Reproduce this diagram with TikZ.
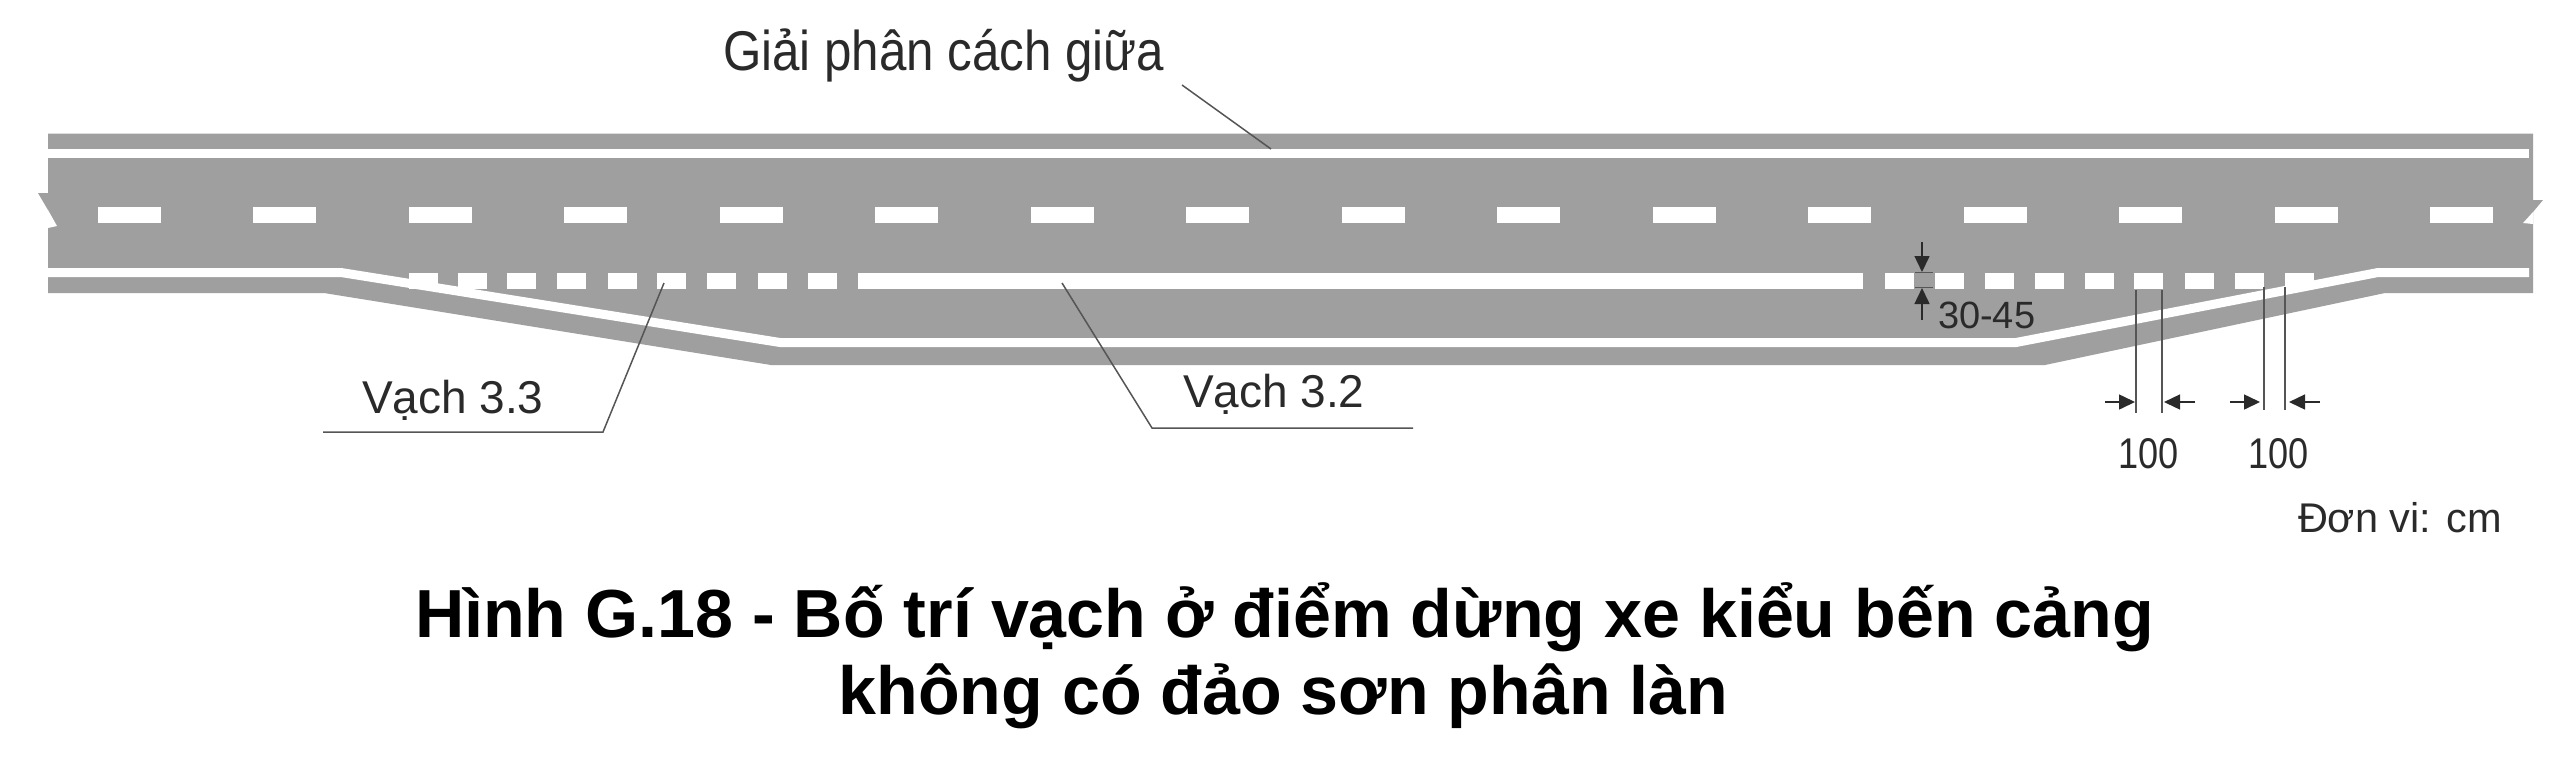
\documentclass[tikz,border=0pt]{standalone}
\usepackage{fontspec}
\usepackage{graphicx}
\setmainfont{Liberation Sans}
\usetikzlibrary{arrows.meta}
\definecolor{roadgray}{HTML}{9F9F9F}
\definecolor{inkgray}{HTML}{2A2A2A}
\definecolor{leadgray}{HTML}{555555}
\newcommand{\fs}[1]{\fontsize{#1}{#1}\selectfont}
\tikzset{
  x=1pt,y=-1pt,
  road/.style={fill=roadgray,draw=none},
  paint/.style={fill=white,draw=none},
  edgeline/.style={draw=white,line width=9pt,line join=miter},
  leader/.style={draw=leadgray,line width=1.5pt},
  dimline/.style={draw=leadgray,line width=2pt},
  dimarrow/.style={draw=inkgray,line width=1.5pt,-{Triangle[length=16pt,width=15pt]}},
  tick/.style={draw=leadgray,line width=1.5pt},
  lbl/.style={inner sep=0pt,outer sep=0pt,anchor=base west,text=inkgray},
  caption/.style={inner sep=0pt,outer sep=0pt,anchor=base,text=black,font=\bfseries},
}
\begin{document}
\begin{tikzpicture}
\useasboundingbox (0,0) rectangle (2562,780);
\fill[white] (0,0) rectangle (2562,780);
% road body
\path[road] (48,133.5) -- (2533,133.5) -- (2533,293) -- (2385,293) -- (2045,365) -- (771,365) -- (324,293) -- (48,293) -- cycle;
% break marks
\path[road] (48,193) -- (38,193) -- (48,210) -- cycle;
\path[paint] (48,210) -- (57,226) -- (48,228) -- cycle;
\path[road] (2533,200) -- (2543,200) -- (2533,212) -- cycle;
\path[paint] (2533,212) -- (2523,223) -- (2533,224) -- cycle;
% centre dashes
\foreach \i in {0,...,15}
  \path[paint] ({98+155.47*\i},207) rectangle ++(63,16);
% short dashes and solid line
\foreach \x in {409,458,507,557,608,657,707,758,808,1885,1935,1985,2035,2085,2134,2185,2235,2285}
  \path[paint] (\x,273) rectangle ++(29,16);
\path[paint] (858,273) rectangle (1863,289);
% edge lines
\draw[edgeline] (48,153.5) -- (2529,153.5);
\draw[edgeline] (48,272.5) -- (341,272.5) -- (780,342.5) -- (2016,342.5) -- (2378,272.5) -- (2529,272.5);
% leaders
\node[lbl] (giai) at (723,70) {\fs{56}\scalebox{0.88}[1]{Giải phân cách giữa}};
\coordinate (giaiA) at (1182,85);
\coordinate (giaiB) at (1271,149);
\draw[leader] (giaiA) -- (giaiB);
\node[lbl] (v33) at (362,413) {\fs{46}Vạch 3.3};
\coordinate (v33A) at (664,283);
\coordinate (v33B) at (603,432);
\coordinate (v33C) at (323,432);
\draw[leader] (v33A) -- (v33B) -- (v33C);
\node[lbl] (v32) at (1183,407) {\fs{46}Vạch 3.2};
\coordinate (v32A) at (1062,283);
\coordinate (v32B) at (1152,428);
\coordinate (v32C) at (1413,428);
\draw[leader] (v32A) -- (v32B) -- (v32C);
% width dimensions
\foreach \n/\x in {a/2136,b/2162}{\coordinate (d\n t) at (\x,290); \coordinate (d\n b) at (\x,413); \draw[dimline] (d\n t) -- (d\n b);}
\foreach \n/\x in {c/2264,d/2285}{\coordinate (d\n t) at (\x,287); \coordinate (d\n b) at (\x,410); \draw[dimline] (d\n t) -- (d\n b);}
\coordinate (aL) at (2105,402); \coordinate (aR) at (2195,402);
\coordinate (bL) at (2230,402); \coordinate (bR) at (2320,402);
\draw[dimarrow] (aL) -- (2135,402);
\draw[dimarrow] (aR) -- (2164,402);
\draw[dimarrow] (bL) -- (2260,402);
\draw[dimarrow] (bR) -- (2289,402);
\node[lbl] (w1) at (2118,468) {\fs{43}\scalebox{0.84}[1]{100}};
\node[lbl] (w2) at (2248,468) {\fs{43}\scalebox{0.84}[1]{100}};
% height dimension
\coordinate (hT) at (1922,242); \coordinate (hB) at (1922,320);
\draw[dimarrow] (hT) -- (1922,272);
\draw[dimarrow] (hB) -- (1922,288);
\draw[tick] (1915,272.5) -- (1933,272.5);
\draw[tick] (1915,287.5) -- (1933,287.5);
\node[lbl] (h) at (1938,328) {\fs{38}30-45};
% unit
\node[lbl] (unit) at (2298,532) {\fs{41.5}Đơn vi: cm};
% caption
\node[caption] (capA) at (1284.5,637) {\fs{68}\scalebox{1.003}[1]{Hình G.18 - Bố trí vạch ở điểm dừng xe kiểu bến cảng}};
\node[caption] (capB) at (1283.5,714) {\fs{68}\scalebox{1.003}[1]{không có đảo sơn phân làn}};
\end{tikzpicture}
\end{document}
